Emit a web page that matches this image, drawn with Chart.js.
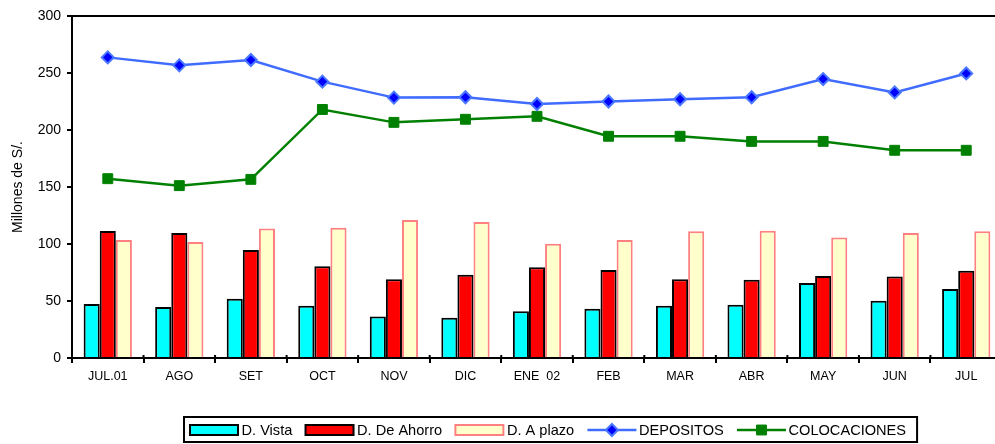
<!DOCTYPE html>
<html>
<head>
<meta charset="utf-8">
<script src="https://cdn.jsdelivr.net/npm/chart.js@4"></script>
<style>
  html, body { margin: 0; padding: 0; background: #ffffff; overflow: hidden; width: 995px; height: 444px; }
  #wrap { width: 1010px; height: 444px; }
</style>
</head>
<body>
<div id="wrap"><canvas id="c" width="1010" height="444"></canvas></div>
<script>
const categories = ["JUL.01", "AGO", "SET", "OCT", "NOV", "DIC", "ENE  02", "FEB", "MAR", "ABR", "MAY", "JUN", "JUL"];
const dVista      = [47.4, 44.7, 52.0, 45.9, 36.5, 35.4, 41.0, 43.3, 45.9, 46.8, 65.8, 50.3, 60.5];
const dAhorro     = [111.4, 109.6, 94.7, 80.4, 69.0, 73.1, 79.5, 77.2, 69.0, 68.7, 71.9, 71.6, 76.6];
const dPlazo      = [103.5, 101.8, 113.5, 114.3, 121.0, 119.3, 100.3, 103.5, 111.1, 111.7, 105.6, 109.6, 111.1];
const depositos   = [263.7, 256.7, 261.4, 242.4, 228.4, 228.7, 222.8, 225.0, 227.0, 228.7, 244.7, 233.0, 249.6];
const colocaciones= [157.3, 151.2, 156.7, 218.0, 206.7, 209.4, 212.0, 194.5, 194.5, 190.0, 190.0, 182.2, 182.2];
const yMin = 0, yMax = 300, yStep = 50;
const yTitle = "Millones de S/.";

const FONT = "'Liberation Sans', Arial, sans-serif";

const plotBorder = {
  id: 'plotBorder',
  afterDatasetsDraw(chart) {
    const {ctx, chartArea} = chart;
    const xs = chart.scales.x;
    ctx.save();
    ctx.strokeStyle = '#000';
    ctx.lineWidth = 2;
    ctx.beginPath();
    ctx.moveTo(chartArea.left, chartArea.top);
    ctx.lineTo(chartArea.right, chartArea.top);
    const n = xs.ticks.length;
    for (let i = 0; i <= n; i++) {
      const px = xs.getPixelForValue(i - 0.5);
      ctx.moveTo(px, chartArea.bottom);
      ctx.lineTo(px, chartArea.bottom - 3);
    }
    ctx.stroke();
    ctx.restore();
  }
};

const customLegend = {
  id: 'customLegend',
  afterDraw(chart) {
    const {ctx} = chart;
    const ds = chart.data.datasets;
    const orderIdx = [2, 3, 4, 0, 1];
    ctx.save();
    ctx.font = "14.6px " + FONT;
    ctx.textBaseline = 'middle';
    const cy = 430;
    let x = 190;
    const startX = x;
    orderIdx.forEach(i => {
      const d = ds[i];
      if (d.type === 'bar') {
        ctx.fillStyle = d.backgroundColor;
        ctx.fillRect(x, cy - 5, 48, 10);
        ctx.strokeStyle = d.borderColor;
        ctx.lineWidth = 2;
        ctx.strokeRect(x, cy - 5, 48, 10);
      } else {
        ctx.strokeStyle = d.borderColor;
        ctx.lineWidth = d.borderWidth;
        ctx.beginPath();
        ctx.moveTo(x, cy);
        ctx.lineTo(x + 49, cy);
        ctx.stroke();
        const mx = x + 24.5;
        ctx.fillStyle = d.pointBackgroundColor;
        ctx.strokeStyle = d.pointBorderColor;
        ctx.lineWidth = d.pointBorderWidth;
        ctx.beginPath();
        if (d.pointStyle === 'rectRot') {
          const r = d.pointRadius;
          ctx.moveTo(mx, cy - r); ctx.lineTo(mx + r, cy); ctx.lineTo(mx, cy + r); ctx.lineTo(mx - r, cy); ctx.closePath();
        } else {
          const s = d.pointRadius * Math.SQRT1_2;
          ctx.rect(mx - s, cy - s, 2 * s, 2 * s);
        }
        ctx.fill();
        ctx.stroke();
      }
      x += 51.5;
      ctx.fillStyle = '#000';
      ctx.fillText(d.label, x, cy + 1);
      x += ctx.measureText(d.label).width + 13.2;
    });
    const endX = x - 13.2 + 11;
    ctx.strokeStyle = '#000';
    ctx.lineWidth = 2;
    ctx.strokeRect(startX - 6, 417, endX - (startX - 6), 25);
    ctx.restore();
  }
};

new Chart(document.getElementById('c'), {
  data: {
    labels: categories,
    datasets: [
      {
        type: 'line', label: 'DEPOSITOS', data: depositos, order: 0,
        borderColor: '#3F6BFF', borderWidth: 2.5,
        pointStyle: 'rectRot', pointRadius: 6, pointBackgroundColor: '#0000FF',
        pointBorderColor: '#4A78FF', pointBorderWidth: 2, tension: 0
      },
      {
        type: 'line', label: 'COLOCACIONES', data: colocaciones, order: 0,
        borderColor: '#008000', borderWidth: 2.5,
        pointStyle: 'rect', pointRadius: 7, pointBackgroundColor: '#008000',
        pointBorderColor: '#008000', pointBorderWidth: 1, tension: 0
      },
      {
        type: 'bar', label: 'D. Vista', data: dVista, order: 1,
        backgroundColor: '#00FFFF', borderColor: '#000000', borderWidth: 2,
        barPercentage: 1.0, categoryPercentage: 0.675
      },
      {
        type: 'bar', label: 'D. De Ahorro', data: dAhorro, order: 1,
        backgroundColor: '#FF0000', borderColor: '#000000', borderWidth: 2,
        barPercentage: 1.0, categoryPercentage: 0.675
      },
      {
        type: 'bar', label: 'D. A plazo', data: dPlazo, order: 1,
        backgroundColor: '#FFFFCC', borderColor: '#FF8080', borderWidth: 2,
        barPercentage: 1.0, categoryPercentage: 0.675
      }
    ]
  },
  options: {
    responsive: false,
    animation: false,
    devicePixelRatio: 1,
    layout: { padding: { top: 16, left: 0, right: 2, bottom: 0 } },
    plugins: {
      legend: { display: false },
      tooltip: { enabled: false },
      title: { display: false }
    },
    scales: {
      x: {
        type: 'category',
        offset: true,
        grid: { display: true, offset: true, drawOnChartArea: false, drawTicks: true, tickLength: 5, color: '#000', lineWidth: 2 },
        border: { display: true, color: '#000', width: 2 },
        ticks: { color: '#000', font: { family: FONT, size: 12.5 }, padding: 6, maxRotation: 0, autoSkip: false },
        afterFit(scale) { scale.height = 86; }
      },
      y: {
        min: yMin, max: yMax,
        grid: { display: true, drawOnChartArea: false, drawTicks: true, tickLength: 5, color: '#000', lineWidth: 2 },
        border: { display: true, color: '#000', width: 2 },
        ticks: { stepSize: yStep, color: '#000', font: { family: FONT, size: 14 }, padding: 6 },
        title: { display: true, text: yTitle, color: '#000', font: { family: FONT, size: 14 }, padding: { top: 10, bottom: 0 } },
        afterFit(scale) { scale.width = 72; }
      }
    }
  },
  plugins: [plotBorder, customLegend]
});
</script>
</body>
</html>
